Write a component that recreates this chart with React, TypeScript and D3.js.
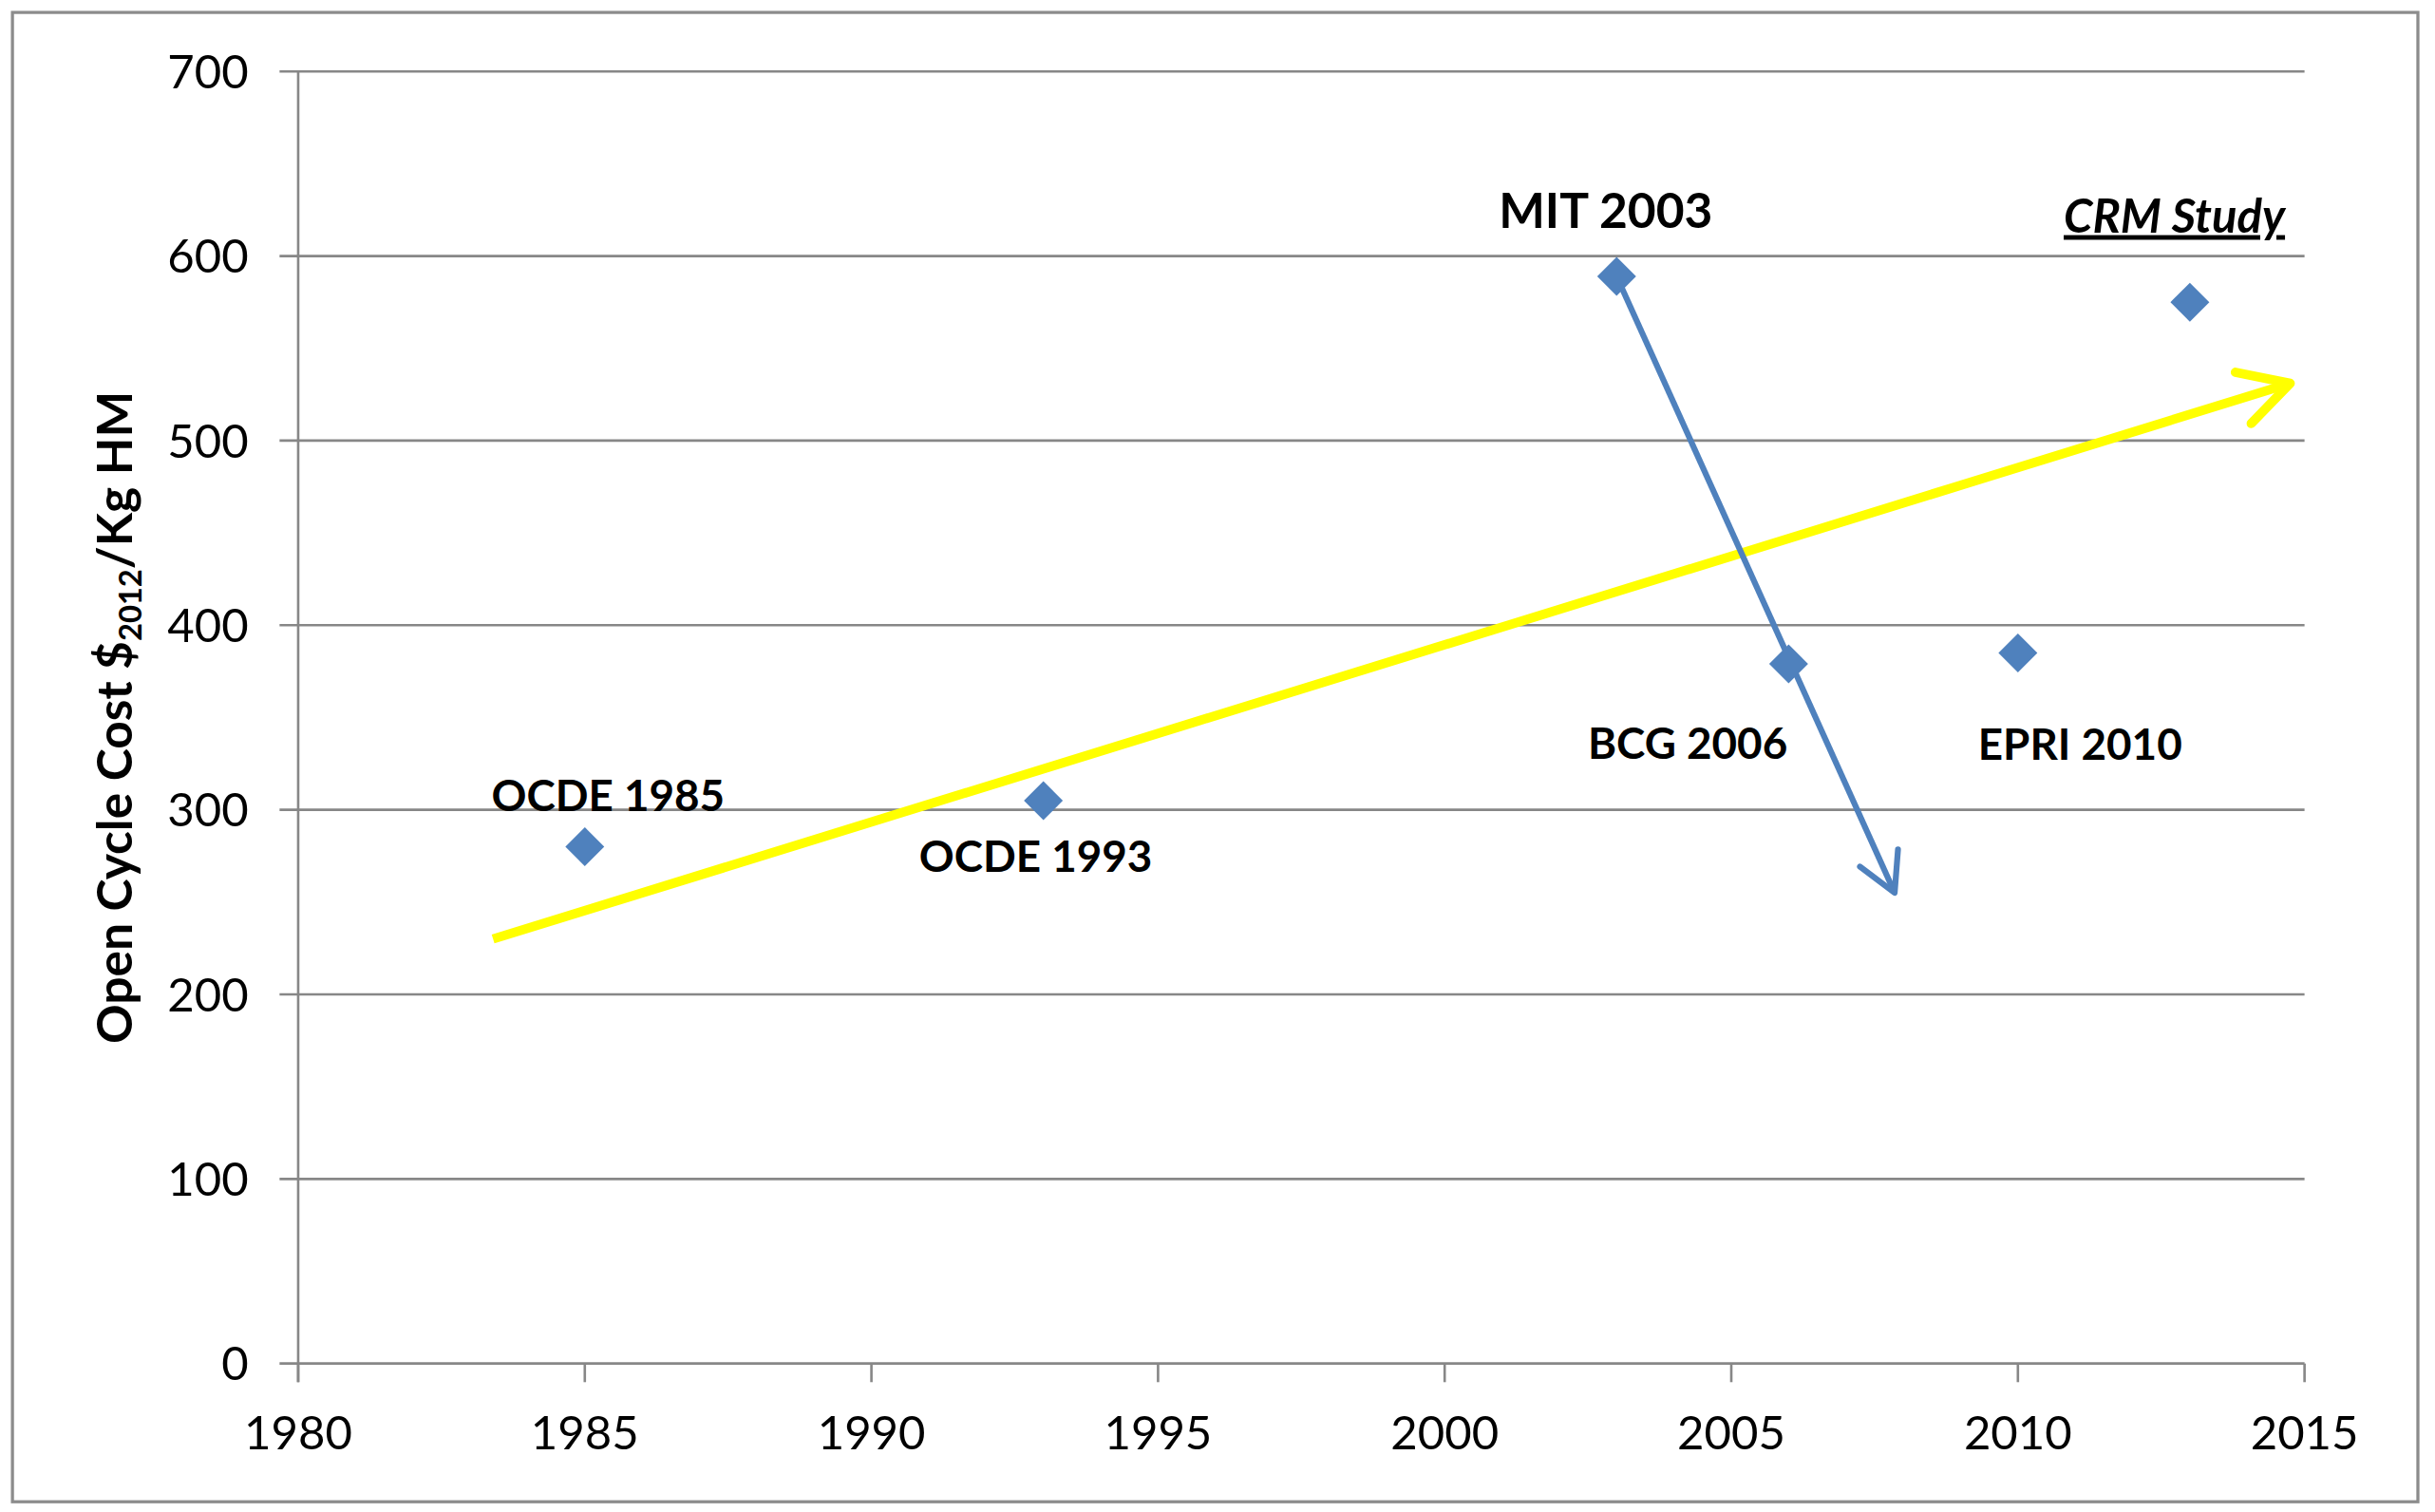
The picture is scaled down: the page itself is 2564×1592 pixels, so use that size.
import React from 'react';
import * as d3 from 'd3';

// ---- data ----
const studies = ['OCDE 1985', 'OCDE 1993', 'MIT 2003', 'BCG 2006', 'EPRI 2010', 'CRM Study'];
const years = [1985, 1993, 2003, 2006, 2010, 2013];
const costs = [280, 305, 589, 379, 385, 575];
const xTicks = [1980, 1985, 1990, 1995, 2000, 2005, 2010, 2015];
const yTicks = [0, 100, 200, 300, 400, 500, 600, 700];
// annotation arrows [year, cost] start -> end
const trendArrow: [number, number][] = [[1983.4, 230], [2014.75, 531]];
const changeArrow: [number, number][] = [[2003, 589], [2007.85, 255]];

// ---- layout (display units, scaled by viewBox) ----
const VW = 1568;
const VH = 973.6;
const M = { left: 192, right: 1484, top: 46, bottom: 878 };
const labelOffsets: [number, number][] = [
  [15, -23], [-5, 46], [-7, -31], [-65, 61], [40, 69], [-10, -45],
];
const labelSizes = [28, 28, 31.5, 28, 28, 30];

const FONT = 'Lato, "DejaVu Sans", sans-serif';
const GRID = '#878787';
const BLUE = '#4F81BD';

function arrowHead(x1: number, y1: number, x2: number, y2: number, len: number, ang: number) {
  const a = Math.atan2(y2 - y1, x2 - x1);
  const p1 = [x2 - len * Math.cos(a - ang), y2 - len * Math.sin(a - ang)];
  const p2 = [x2 - len * Math.cos(a + ang), y2 - len * Math.sin(a + ang)];
  return `M${p1[0]},${p1[1]}L${x2},${y2}L${p2[0]},${p2[1]}`;
}

export default function App() {
  const x = d3.scaleLinear().domain([1980, 2015]).range([M.left, M.right]);
  const y = d3.scaleLinear().domain([0, 700]).range([M.bottom, M.top]);
  const line = d3.line<[number, number]>().x(d => x(d[0])).y(d => y(d[1]));

  const tA = trendArrow.map(d => [x(d[0]), y(d[1])]);
  const cA = changeArrow.map(d => [x(d[0]), y(d[1])]);

  const diamond = d3.symbol().type(d3.symbolDiamond2).size(400)();

  return (
    <svg
      width={2564}
      height={1592}
      viewBox={`0 0 ${VW} ${VH}`}
      style={{ position: 'absolute', left: 0, top: 0, background: '#fff' }}
    >
      <rect x={0} y={0} width={VW} height={VH} fill="#fff" />
      <rect x={8} y={8} width={1549} height={959} fill="none" stroke="#8c8c8c" strokeWidth={2} />

      {/* gridlines + y ticks */}
      {yTicks.map(t => (
        <g key={t}>
          <line x1={M.left - 12} x2={M.right} y1={y(t)} y2={y(t)} stroke={GRID} strokeWidth={1.6} />
          <text
            x={M.left - 32}
            y={y(t)}
            dy="0.36em"
            textAnchor="end"
            fontFamily={FONT}
            fontSize={30}
            fill="#000"
          >
            {t}
          </text>
        </g>
      ))}
      {/* y axis */}
      <line x1={M.left} x2={M.left} y1={M.top} y2={M.bottom + 12} stroke={GRID} strokeWidth={1.6} />
      {/* x ticks */}
      {xTicks.map(t => (
        <g key={t}>
          <line x1={x(t)} x2={x(t)} y1={M.bottom} y2={M.bottom + 12} stroke={GRID} strokeWidth={1.6} />
          <text
            x={x(t)}
            y={933}
            textAnchor="middle"
            fontFamily={FONT}
            fontSize={30}
            fill="#000"
          >
            {t}
          </text>
        </g>
      ))}

      {/* y title */}
      <text
        transform={`translate(85, 462) rotate(-90)`}
        textAnchor="middle"
        fontFamily={FONT}
        fontWeight="bold"
        fontSize={31.5}
        fill="#000"
      >
        <tspan>Open Cycle Cost $</tspan>
        <tspan fontSize={20} dy={6}>2012</tspan>
        <tspan dy={-6}>/Kg HM</tspan>
      </text>

      {/* trend arrow (yellow) */}
      <path d={line(trendArrow as [number, number][]) || ''} stroke="#FFFF00" strokeWidth={6} fill="none" />
      <path
        d={arrowHead(tA[0][0], tA[0][1], tA[1][0], tA[1][1], 36, 0.5)}
        stroke="#FFFF00"
        strokeWidth={6}
        fill="none"
        strokeLinecap="round"
        strokeLinejoin="round"
      />

      {/* change arrow (blue) */}
      <path d={line(changeArrow as [number, number][]) || ''} stroke={BLUE} strokeWidth={3.8} fill="none" />
      <path
        d={arrowHead(cA[0][0], cA[0][1], cA[1][0], cA[1][1], 28, 0.5)}
        stroke={BLUE}
        strokeWidth={3.8}
        fill="none"
        strokeLinecap="round"
        strokeLinejoin="round"
      />

      {/* points */}
      {years.map((yr, i) => (
        <path key={yr} d={diamond || ''} transform={`translate(${x(yr)},${y(costs[i])})`} fill={BLUE} />
      ))}

      {/* labels */}
      {studies.map((s, i) => {
        const last = i === studies.length - 1;
        return (
          <text
            key={s}
            x={x(years[i]) + labelOffsets[i][0]}
            y={y(costs[i]) + labelOffsets[i][1]}
            textAnchor="middle"
            fontFamily={FONT}
            fontWeight="bold"
            fontSize={labelSizes[i]}
            fontStyle={last ? 'italic' : 'normal'}
            textDecoration={last ? 'underline' : 'none'}
            fill="#000"
          >
            {s}
          </text>
        );
      })}
    </svg>
  );
}
